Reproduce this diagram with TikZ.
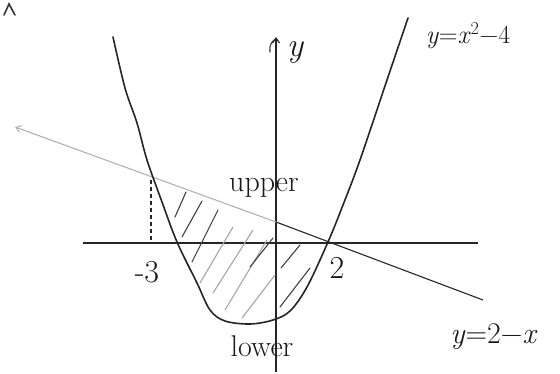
\documentclass[tikz,border=0pt]{standalone}
\usepackage{fontspec}
\usetikzlibrary{arrows.meta}
\begin{document}
\begin{tikzpicture}[x=1pt,y=-1pt,
  curve/.style={line width=1.6pt,black!85,line cap=round,line join=round},
  axis/.style={line width=1.2pt,black!85},
  hatchdark/.style={line width=1.1pt,black!75,line cap=round},
  hatchlight/.style={line width=1.1pt,black!35,line cap=round},
  lbl/.style={font=\fontsize{24}{26}\selectfont,inner sep=0pt,text=black!90}]
\useasboundingbox (0,0) rectangle (560,374);
% stray mark top-left
\draw[line width=1.6pt,black!80,line cap=round] (4,15) -- (9,4) -- (15,15);
% axes
\coordinate (xl) at (83,243);
\coordinate (xr) at (478,243);
\coordinate (yb) at (276,372);
\coordinate (yt) at (276,37);
\draw[axis] (xl) -- (xr);
\draw[axis,-{Straight Barb[length=5pt,width=7pt]}] (yb) -- (yt);
\draw[line width=1.1pt,black!80,line cap=round] (270,52) .. controls (269,45) and (272,42) .. (274,40);
% line y = 2 - x
\coordinate (ls) at (483,300);
\coordinate (lm) at (276,222);
\coordinate (le) at (15,127);
\draw[line width=1.1pt,black!85] (ls) -- (lm);
\draw[line width=1.1pt,black!30,-{Straight Barb[length=5pt,width=7pt]}] (lm) -- (le);
% parabola
\draw[curve] plot[smooth,tension=0.55] coordinates {
  (113,37) (125,88) (137,123) (147,160) (162,202) (177,242) (197,283) (210,310)
  (225,321) (250,324) (273,320) (290,311) (307,287) (328,242) (343,205) (360,160)
  (387,80) (408,18)};
% dashed at x = -3
\coordinate (dt) at (151,180);
\coordinate (db) at (151,243);
\draw[line width=1.3pt,black!85,dash pattern=on 4pt off 3pt] (dt) -- (db);
% hatching
\draw[hatchdark] (175,217) -- (186,192);
\draw[hatchdark] (182,237) -- (202,201);
\draw[hatchdark] (192,262) -- (218,210);
\draw[hatchlight] (200,283) -- (233,227);
\draw[hatchlight] (213,293) -- (253,230);
\draw[hatchlight] (225,310) -- (267,240);
\draw[hatchlight] (242,318) -- (275,275);
\draw[hatchdark] (250,267) -- (273,238);
\draw[hatchdark] (281,268) -- (300,245);
\draw[hatchdark] (280,307) -- (310,268);
% labels
\node[lbl,font=\fontsize{34}{36}\selectfont\itshape] (ylab) at (295,52) {y};
\node[lbl,font=\fontsize{26}{28}\selectfont] (parab) at (468,36) {\textit{y}=\textit{x}\textsuperscript{2}−4};
\node[lbl,font=\fontsize{30}{32}\selectfont] (upper) at (264,188) {upper};
\node[lbl,font=\fontsize{30}{32}\selectfont] (lower) at (262,346) {lower};
\node[lbl,font=\fontsize{32}{34}\selectfont] (m3) at (147,272) {-3};
\node[lbl,font=\fontsize{32}{34}\selectfont] (two) at (337,268) {2};
\node[lbl,font=\fontsize{30}{32}\selectfont] (linelab) at (494,337) {\textit{y}=2−\textit{x}};
\end{tikzpicture}
\end{document}
